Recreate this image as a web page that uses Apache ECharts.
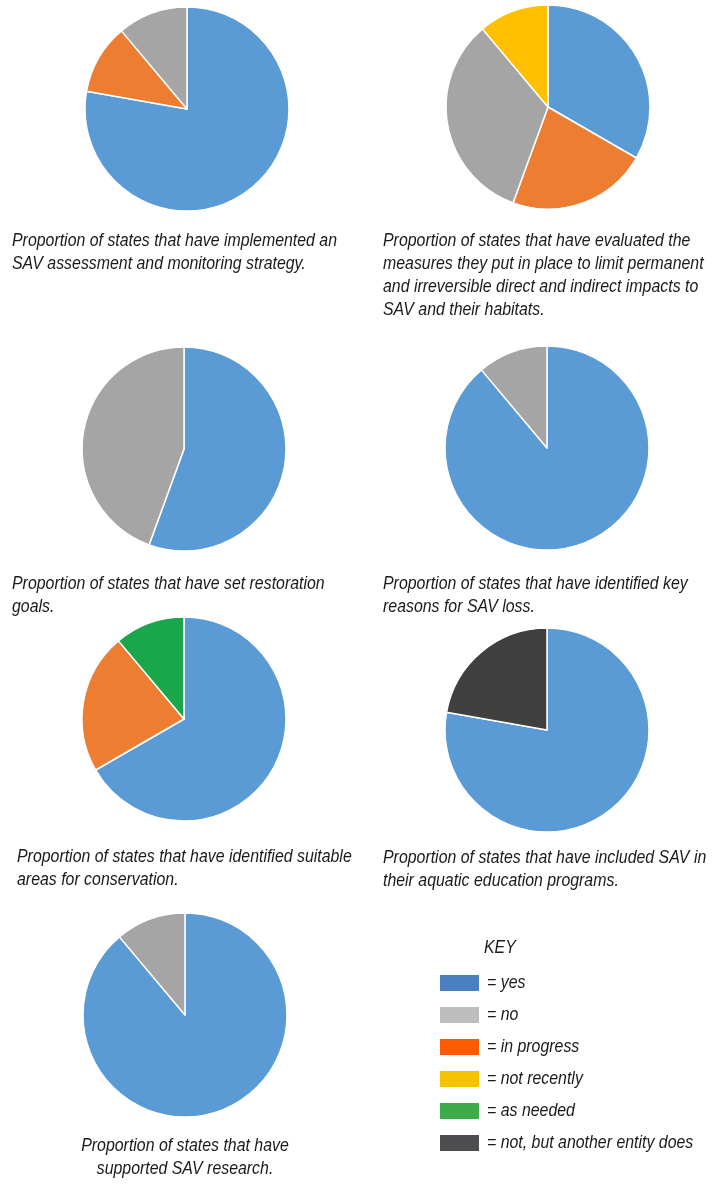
<!DOCTYPE html>
<html>
<head>
<meta charset="utf-8">
<script src="https://cdn.jsdelivr.net/npm/echarts@6/dist/echarts.min.js"></script>
<style>
  html, body { margin: 0; padding: 0; background: #ffffff; }
  #chart { width: 720px; height: 1186px; }
</style>
</head>
<body>
<div id="chart"></div>
<script>
// Response categories, in the clockwise order the slices are drawn
const categories = ['yes', 'in progress', 'no', 'not recently', 'as needed', 'not, but another entity does'];

// Number of states per response (same order as categories)
const assessmentStrategy = [7, 1, 1, 0, 0, 0];
const impactMeasures     = [3, 2, 3, 1, 0, 0];
const restorationGoals   = [5, 0, 4, 0, 0, 0];
const lossReasons        = [8, 0, 1, 0, 0, 0];
const conservationAreas  = [6, 2, 0, 0, 1, 0];
const educationPrograms  = [7, 0, 0, 0, 0, 2];
const researchSupport    = [8, 0, 1, 0, 0, 0];

// Slice colours per category
const sliceColors = ['#5b9bd5', '#ed7d31', '#a5a5a5', '#ffc000', '#1aa64a', '#404040'];

// Captions under each pie
const captions = [
  'Proportion of states that have implemented an\nSAV assessment and monitoring strategy.',
  'Proportion of states that have evaluated the\nmeasures they put in place to limit permanent\nand irreversible direct and indirect impacts to\nSAV and their habitats.',
  'Proportion of states that have set restoration\ngoals.',
  'Proportion of states that have identified key\nreasons for SAV loss.',
  'Proportion of states that have identified suitable\nareas for conservation.',
  'Proportion of states that have included SAV in\ntheir aquatic education programs.',
  'Proportion of states that have\nsupported SAV research.'
];

// Key entries
const keyTitle = 'KEY';
const keyLabels = ['= yes', '= no', '= in progress', '= not recently', '= as needed', '= not, but another entity does'];
const keyColors = ['#4a7fc0', '#bdbdbd', '#ff5a00', '#f5c200', '#3dab4a', '#4d4d4f'];

const pies = [
  { values: assessmentStrategy, center: [187, 109] },
  { values: impactMeasures,     center: [548, 107] },
  { values: restorationGoals,   center: [184, 449] },
  { values: lossReasons,        center: [547, 448] },
  { values: conservationAreas,  center: [184, 719] },
  { values: educationPrograms,  center: [547, 730] },
  { values: researchSupport,    center: [185, 1015] }
];

const captionLayout = [
  { x: 12,  y: 229, align: 'left' },
  { x: 383, y: 229, align: 'left' },
  { x: 12,  y: 572, align: 'left' },
  { x: 383, y: 572, align: 'left' },
  { x: 17,  y: 845, align: 'left' },
  { x: 383, y: 846, align: 'left' },
  { x: 185, y: 1134, align: 'center' }
];

const textFont = 'italic 18px "Liberation Sans", Arial, sans-serif';

// Condensed look: squeeze the regular italic so the first caption line spans ~325px
const measureCtx = document.createElement('canvas').getContext('2d');
measureCtx.font = textFont;
const squeeze = 325 / measureCtx.measureText('Proportion of states that have implemented an').width;

const series = pies.map(function (p) {
  const data = [];
  p.values.forEach(function (v, i) {
    if (v > 0) {
      data.push({ name: categories[i], value: v, itemStyle: { color: sliceColors[i] } });
    }
  });
  return {
    type: 'pie',
    center: p.center,
    radius: [0, 102],
    startAngle: 90,
    clockwise: true,
    silent: true,
    animation: false,
    label: { show: false },
    labelLine: { show: false },
    itemStyle: { borderColor: '#ffffff', borderWidth: 1.5 },
    data: data
  };
});

const graphics = [];
captions.forEach(function (t, i) {
  const c = captionLayout[i];
  graphics.push({
    type: 'text',
    x: c.x,
    y: c.y,
    scaleX: squeeze,
    style: {
      text: t,
      fill: '#1a1a1a',
      font: textFont,
      lineHeight: 23,
      align: c.align,
      verticalAlign: 'top'
    }
  });
});

// Key block
graphics.push({
  type: 'text',
  x: 484, y: 948,
  scaleX: squeeze,
  style: { text: keyTitle, fill: '#1a1a1a', font: textFont, verticalAlign: 'middle' }
});
keyLabels.forEach(function (lab, i) {
  const cy = 983 + i * 32;
  graphics.push({
    type: 'rect',
    shape: { x: 440, y: cy - 8, width: 39, height: 16 },
    style: { fill: keyColors[i] }
  });
  graphics.push({
    type: 'text',
    x: 487, y: cy,
    scaleX: squeeze,
    style: { text: lab, fill: '#1a1a1a', font: textFont, verticalAlign: 'middle' }
  });
});

const chart = echarts.init(document.getElementById('chart'), null, { renderer: 'canvas' });
chart.setOption({
  animation: false,
  backgroundColor: '#ffffff',
  series: series,
  graphic: graphics
});
</script>
</body>
</html>
